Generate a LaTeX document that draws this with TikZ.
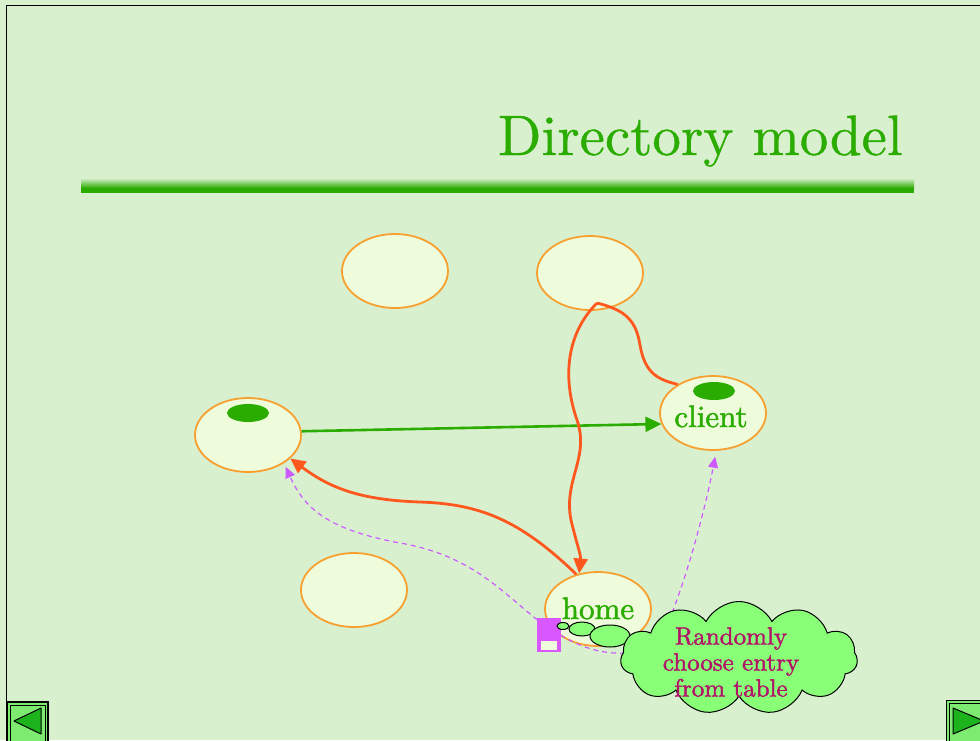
\documentclass[tikz,border=0pt]{standalone}
\usepackage{fontspec}
\newfontfamily\heavyserif[Extension=.otf,FakeBold=1.6]{lmroman10-regular}
\newfontfamily\titleserif[Extension=.otf,FakeBold=0.6]{lmroman10-regular}
\usetikzlibrary{shapes.geometric,shapes.symbols,arrows.meta}
\definecolor{slidebg}{RGB}{217,240,207}
\definecolor{titlegreen}{RGB}{42,172,0}
\definecolor{nodefill}{RGB}{238,252,220}
\definecolor{nodeedge}{RGB}{247,160,48}
\definecolor{linkred}{RGB}{255,88,30}
\definecolor{dashpurple}{RGB}{204,90,255}
\definecolor{tablefill}{RGB}{217,87,255}
\definecolor{cloudfill}{RGB}{136,255,119}
\definecolor{cloudtext}{RGB}{178,18,104}
\definecolor{btnfill}{RGB}{125,235,112}
\definecolor{btntri}{RGB}{29,179,29}
\tikzset{
  host/.style={ellipse, draw=nodeedge, fill=nodefill, line width=1.8pt,
    minimum width=106pt, minimum height=74pt, inner sep=0pt},
  hostdot/.style={ellipse, fill=titlegreen, minimum width=42pt,
    minimum height=18pt, inner sep=0pt},
  hostlabel/.style={text=titlegreen, font=\heavyserif\fontsize{31}{31}\selectfont, inner sep=0pt},
  greenlink/.style={draw=titlegreen, line width=2.6pt,
    -{Triangle[length=16pt,width=15pt]}},
  redlink/.style={draw=linkred, line width=2.8pt, line join=round},
  redtip/.style={-{Triangle[length=15pt,width=14pt]}},
  randlink/.style={draw=dashpurple, line width=1.2pt, dash pattern=on 5pt off 4pt,
    -{Triangle[length=11pt,width=10pt]}, shorten >=4pt},
  bubble/.style={ellipse, draw=black, fill=cloudfill, line width=1pt, inner sep=0pt},
  navbtn/.style={fill=btnfill, draw=black, line width=1.2pt},
  navtri/.style={fill=btntri, draw=black, line width=1pt, line join=round},
}
\begin{document}
\begin{tikzpicture}[x=1pt,y=-1pt]
\useasboundingbox (0,0) rectangle (980,740);
\clip (0,0) rectangle (980,740);
% slide background and frame
\fill[slidebg] (0,0) rectangle (980,740);
\draw[black, line width=1.2pt] (6.5,760) -- (6.5,5.5) -- (1000,5.5);

% title and rule
\node[anchor=base east, text=titlegreen, inner sep=0pt,
      font=\titleserif\fontsize{57}{57}\selectfont] (title) at (903,155) {Directory model};
\shade[top color=slidebg, bottom color=titlegreen] (81,178) rectangle (914,188);
\fill[titlegreen] (81,187.5) rectangle (914,193);

% hosts
\node[host] (hA) at (395,271) {};
\node[host] (hB) at (590,273) {};
\node[host] (hC) at (248,435) {};
\node[host] (client) at (713,413) {};
\node[host] (hE) at (354,590) {};
\node[host] (home) at (598,609) {};

\node[hostdot] (dotC) at (248,413) {};
\node[hostdot] (dotclient) at (714,391) {};
\node[hostlabel, anchor=base] (clientlabel) at (711,427) {client};
\node[hostlabel, anchor=base] (homelabel) at (598,619) {home};

% links
\draw[greenlink] (hC.4) -- (client.192);
\draw[redlink, redtip] (home.122) .. controls (520,520) and (480,504) .. (420,502)
   .. controls (360,500) and (330,488) .. (hC.331);
\draw[redlink, redtip] (597,303) .. controls (565,335) and (563,380) .. (577,420)
   .. controls (590,458) and (563,480) .. (571,520)
   .. controls (577,545) and (581,555) .. (home.118);
\draw[redlink] (597,303) .. controls (625,310) and (636,320) .. (640,345)
   .. controls (645,375) and (660,380) .. (client.141);

% table of entries
\node[draw=tablefill, fill=tablefill, line width=1.2pt, minimum width=22pt,
      minimum height=33pt, inner sep=0pt] (tbl) at (549,635) {};
\node[fill=nodefill, minimum width=16pt, minimum height=9pt, inner sep=0pt]
      (tblrow) at (549,645) {};

% random choices
\draw[randlink] ([yshift=-2pt]tbl.north west) .. controls (500,590) and (470,555) .. (400,543)
   .. controls (330,530) and (305,510) .. (hC.322);
\draw[randlink, shorten >=6pt] (tbl.east) .. controls (600,660) and (650,660) .. (665,630)
   .. controls (685,585) and (705,510) .. (client.275);

% thought bubble
\node[bubble, minimum width=12pt, minimum height=7pt] (b1) at (563,626) {};
\node[bubble, minimum width=26pt, minimum height=14pt] (b2) at (582,629) {};
\node[bubble, minimum width=40pt, minimum height=22pt] (b3) at (610,636) {};
\node[cloud, cloud puffs=11, cloud puff arc=125, aspect=2.1, draw=black, fill=cloudfill,
      line width=1pt, minimum width=237pt, minimum height=113pt, inner sep=0pt]
      (cloud) at (739,658) {};
\node[align=center, text=cloudtext, inner sep=0pt,
      font=\heavyserif\fontsize{25}{26}\selectfont] (cloudtxt) at (731,662)
      {Randomly\\choose entry\\from table};

% navigation buttons
\draw[navbtn] (7.5,702) rectangle (48,760);
\draw[black, line width=0.7pt] (10.5,705) rectangle (45,760);
\draw[navtri] (14,721) -- (41,708) -- (41,734) -- cycle;
\draw[navbtn] (946.5,700.5) rectangle (1000,760);
\draw[black, line width=0.7pt] (949.5,703.5) rectangle (1000,760);
\draw[navtri] (953,708) -- (984,721) -- (953,734) -- cycle;
\end{tikzpicture}
\end{document}
